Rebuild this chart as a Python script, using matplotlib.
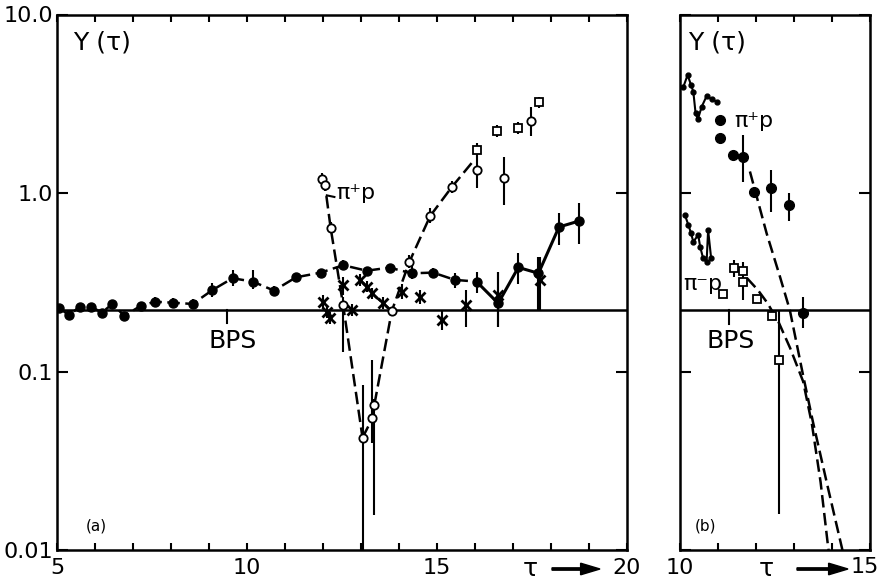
import matplotlib
matplotlib.use("Agg")
import matplotlib.pyplot as plt
from matplotlib.ticker import FixedLocator, NullFormatter, FixedFormatter

plt.rcParams['font.family'] = ['DejaVu Sans']

# ---------------- data: panel (a) ----------------
bps_level = 0.22

filled_tau = [5.06, 5.32, 5.6, 5.89, 6.18, 6.46, 6.77, 7.2, 7.58, 8.04, 8.57, 9.09, 9.62,
              10.15, 10.71, 11.29, 11.94, 12.53, 13.15, 13.75, 14.33, 14.9, 15.47, 16.04,
              16.61, 17.14, 17.67, 18.21, 18.74]
filled_y = [0.226, 0.207, 0.231, 0.231, 0.214, 0.239, 0.205, 0.233, 0.246, 0.243, 0.239,
            0.286, 0.333, 0.319, 0.284, 0.337, 0.358, 0.394, 0.367, 0.382, 0.355, 0.358,
            0.326, 0.319, 0.241, 0.383, 0.355, 0.645, 0.697]
filled_lo = [0.215, 0.196, 0.219, 0.219, 0.203, 0.226, 0.194, 0.221, 0.231, 0.228, 0.225,
             0.26, 0.30, 0.29, 0.27, 0.32, 0.34, 0.37, 0.35, 0.36, 0.33, 0.335, 0.293, 0.275,
             0.177, 0.31, 0.22, 0.51, 0.52]
filled_hi = [0.238, 0.218, 0.243, 0.243, 0.225, 0.252, 0.216, 0.245, 0.262, 0.258, 0.254,
             0.315, 0.37, 0.37, 0.30, 0.355, 0.376, 0.42, 0.385, 0.40, 0.39, 0.38, 0.355,
             0.36, 0.36, 0.46, 0.44, 0.77, 0.88]

open_tau = [11.97, 12.05, 12.2, 12.53, 13.04, 13.3, 13.35, 13.81, 14.27, 14.82, 15.39,
            16.04, 16.75, 17.47]
open_y = [1.2, 1.11, 0.64, 0.235, 0.0426, 0.0547, 0.0649, 0.218, 0.41, 0.743, 1.08, 1.35,
          1.21, 2.54]
open_lo = [1.1, 1.02, 0.6, 0.128, 0.005, 0.04, 0.0157, 0.205, 0.38, 0.68, 1.0, 1.07,
           0.857, 2.09]
open_hi = [1.3, 1.2, 0.69, 0.26, 0.084, 0.116, 0.07, 0.23, 0.45, 0.82, 1.17, 1.59, 1.59,
           3.03]

# dashed curve through open circles (descending arm, rising arm)
open_down_tau = [11.97, 12.05, 12.2, 12.53, 13.04]
open_down_y = [1.2, 1.11, 0.64, 0.235, 0.0426]
open_up_tau = [13.04, 13.3, 13.35, 13.81, 14.27, 14.82, 15.39, 15.91]
open_up_y = [0.0426, 0.0547, 0.0649, 0.218, 0.41, 0.743, 1.08, 1.47]

sq_tau = [16.04, 16.57, 17.14, 17.68]
sq_y = [1.74, 2.22, 2.32, 3.22]
sq_lo = [1.6, 2.05, 2.15, 3.0]
sq_hi = [1.9, 2.4, 2.5, 3.45]

cross_tau = [11.99, 12.1, 12.18, 12.52, 12.76, 12.97, 13.15, 13.28, 13.59, 14.07, 14.55,
             15.13, 15.76, 16.6, 17.7]
cross_y = [0.246, 0.216, 0.199, 0.305, 0.221, 0.326, 0.299, 0.274, 0.241, 0.28, 0.26,
           0.195, 0.236, 0.27, 0.325]
cross_lo = [0.225, 0.2, 0.185, 0.27, 0.205, 0.30, 0.28, 0.255, 0.225, 0.255, 0.24, 0.17,
            0.177, 0.177, 0.22]
cross_hi = [0.27, 0.235, 0.215, 0.34, 0.24, 0.35, 0.32, 0.295, 0.26, 0.31, 0.285, 0.22,
            0.286, 0.36, 0.44]
cross_line_tau = [12.97, 13.15, 13.28, 13.59, 13.81]
cross_line_y = [0.326, 0.299, 0.274, 0.241, 0.218]

# ---------------- data: panel (b) ----------------
bp_dots_tau = [10.09, 10.2, 10.29, 10.35, 10.41, 10.47, 10.57, 10.7, 10.83, 10.97]
bp_dots_y = [3.94, 4.58, 4.03, 3.7, 2.8, 2.59, 3.04, 3.49, 3.35, 3.25]
bp_big_tau = [11.05, 11.05, 11.4, 11.67, 11.95, 12.4, 12.88, 13.24]
bp_big_y = [2.56, 2.03, 1.63, 1.6, 1.01, 1.07, 0.857, 0.212]
bp_big_lo = [2.45, 1.95, 1.56, 1.15, 0.97, 0.78, 0.70, 0.175]
bp_big_hi = [2.68, 2.12, 1.70, 2.11, 1.05, 1.35, 1.00, 0.26]

bm_dots_tau = [10.13, 10.22, 10.29, 10.35, 10.48, 10.53, 10.61, 10.7, 10.74, 10.82]
bm_dots_y = [0.753, 0.662, 0.597, 0.533, 0.582, 0.50, 0.43, 0.41, 0.62, 0.43]
sqb_tau = [11.12, 11.43, 11.67, 11.67, 12.02, 12.42, 12.6]
sqb_y = [0.272, 0.378, 0.366, 0.318, 0.255, 0.205, 0.116]
sqb_lo = [0.26, 0.34, 0.33, 0.25, 0.245, 0.195, 0.016]
sqb_hi = [0.285, 0.42, 0.41, 0.33, 0.265, 0.215, 0.22]

curve_bp_tau = [11.84, 12.28, 12.63, 12.89, 13.24, 13.5, 13.9, 14.26, 14.4]
curve_bp_y = [1.32, 0.594, 0.34, 0.221, 0.095, 0.052, 0.022, 0.0103, 0.0075]
curve_bm_tau = [11.76, 12.05, 12.3, 12.59, 12.9, 13.24, 13.47, 13.7, 13.9, 14.0]
curve_bm_y = [0.334, 0.286, 0.242, 0.19, 0.135, 0.088, 0.051, 0.024, 0.0103, 0.0075]

# ---------------- figure ----------------
W, H = 881, 580
fig = plt.figure(figsize=(W / 100, H / 100), dpi=100)
ax1 = fig.add_axes([57 / W, 30 / H, 570 / W, 535.5 / H])
ax2 = fig.add_axes([680 / W, 30 / H, 190 / W, 535.5 / H])

DASH = (5, 2.2)
LW = 1.8


def yerr(y, lo, hi):
    return [[a - b for a, b in zip(y, lo)], [b - a for a, b in zip(y, hi)]]


def style_axes(ax, xmin, xmax, labels):
    ax.set_yscale('log')
    ax.set_xlim(xmin, xmax)
    ax.set_ylim(0.01, 10.0)
    for s in ax.spines.values():
        s.set_linewidth(1.8)
    ax.xaxis.set_major_locator(FixedLocator(list(labels.keys())))
    ax.xaxis.set_major_formatter(FixedFormatter(list(labels.values())))
    ax.xaxis.set_minor_locator(FixedLocator(list(range(xmin, xmax + 1))))
    ax.tick_params(axis='x', which='both', direction='in', top=True, bottom=True,
                   length=5, width=1.5, labelsize=16, pad=6)
    ax.yaxis.set_major_locator(FixedLocator([0.01, 0.1, 1.0, 10.0]))
    ax.yaxis.set_minor_locator(FixedLocator([]))
    ax.tick_params(axis='y', which='both', direction='in', left=True, right=True,
                   length=8, width=1.5, labelsize=16, pad=3)
    ax.axhline(bps_level, color='k', lw=1.8, zorder=1)


style_axes(ax1, 5, 20, {5: '5', 10: '10', 15: '15', 20: '20'})
ax1.yaxis.set_major_formatter(FixedFormatter(['0.01', '0.1', '1.0', '10.0']))
style_axes(ax2, 10, 15, {10: '10', 15: ''})
ax2.yaxis.set_major_formatter(NullFormatter())
# the "15" of panel (b) sits a little inside the figure edge
fig.text(865 / W, 1 - 567 / H, '15', fontsize=16, ha='center', va='center')

# ---- panel (a) ----
n_dash = 24  # index of last point joined by dashed line
ax1.plot(filled_tau[:n_dash], filled_y[:n_dash], color='k', lw=LW, dashes=DASH, zorder=2)
ax1.plot(filled_tau[n_dash - 1:], filled_y[n_dash - 1:], color='k', lw=2.2, zorder=2)
ax1.errorbar(filled_tau, filled_y, yerr=yerr(filled_y, filled_lo, filled_hi), fmt='o',
             color='k', ms=6.5, elinewidth=1.5, capsize=0, zorder=4)

ax1.plot(open_down_tau, open_down_y, color='k', lw=LW, dashes=DASH, zorder=2)
ax1.plot(open_up_tau, open_up_y, color='k', lw=LW, dashes=DASH, zorder=2)
ax1.errorbar(open_tau, open_y, yerr=yerr(open_y, open_lo, open_hi), fmt='o', color='k',
             mfc='white', mec='k', mew=1.3, ms=6, elinewidth=1.5, capsize=0, zorder=5)

ax1.errorbar(sq_tau, sq_y, yerr=yerr(sq_y, sq_lo, sq_hi), fmt='s', color='k',
             mfc='white', mec='k', mew=1.3, ms=5.5, elinewidth=1.5, capsize=0, zorder=5)

ax1.plot(cross_line_tau, cross_line_y, color='k', lw=LW, dashes=DASH, zorder=2)
ax1.errorbar(cross_tau, cross_y, yerr=yerr(cross_y, cross_lo, cross_hi), fmt='x',
             color='k', ms=6.5, mew=2.0, elinewidth=1.5, capsize=0, zorder=4)

# pi+ p label with short connector
ax1.plot([12.1, 12.3], [0.97, 0.95], color='k', lw=1.5)
ax1.text(12.87, 1.0, 'π⁺p', fontsize=16, ha='center', va='center')

ax1.plot([9.47, 9.47], [bps_level, 0.187], color='k', lw=1.5)
ax1.text(9.63, 0.148, 'BPS', fontsize=18, ha='center', va='center')
ax1.text(0.079, 0.947, 'Y (τ)', transform=ax1.transAxes, fontsize=18,
         ha='center', va='center')
ax1.text(0.05, 0.045, '(a)', transform=ax1.transAxes, fontsize=11, ha='left',
         va='center')

# ---- panel (b) ----
ax2.plot(bp_dots_tau, bp_dots_y, color='k', lw=1.5, marker='o', ms=3.5, zorder=3)
ax2.errorbar(bp_big_tau, bp_big_y, yerr=yerr(bp_big_y, bp_big_lo, bp_big_hi), fmt='o',
             color='k', ms=7, elinewidth=1.5, capsize=0, zorder=4)
ax2.plot(bm_dots_tau, bm_dots_y, color='k', lw=1.5, marker='o', ms=3.5, zorder=3)
ax2.errorbar(sqb_tau, sqb_y, yerr=yerr(sqb_y, sqb_lo, sqb_hi), fmt='s', color='k',
             mfc='white', mec='k', mew=1.3, ms=5.5, elinewidth=1.5, capsize=0, zorder=5)
ax2.plot(curve_bp_tau, curve_bp_y, color='k', lw=LW, dashes=DASH, zorder=2)
ax2.plot(curve_bm_tau, curve_bm_y, color='k', lw=LW, dashes=DASH, zorder=2)

ax2.text(11.95, 2.53, 'π⁺p', fontsize=16, ha='center', va='center')
ax2.text(10.6, 0.31, 'π⁻p', fontsize=16, ha='center', va='center')
ax2.plot([11.28, 11.28], [bps_level, 0.185], color='k', lw=1.5)
ax2.text(11.34, 0.148, 'BPS', fontsize=18, ha='center', va='center')
ax2.text(0.195, 0.947, 'Y (τ)', transform=ax2.transAxes, fontsize=18,
         ha='center', va='center')
ax2.text(0.08, 0.045, '(b)', transform=ax2.transAxes, fontsize=11, ha='left',
         va='center')

# axis labels "tau -->"
for tx, x0, x1 in [(530, 552, 600), (766, 797, 848)]:
    fig.text(tx / W, 1 - 569 / H, 'τ', fontsize=18, ha='center', va='center')
    fig.patches.append(matplotlib.patches.FancyArrow(
        x0 / W, 1 - 569 / H, (x1 - x0) / W, 0, width=0.004, head_width=0.02,
        head_length=0.022, length_includes_head=True, color='k',
        transform=fig.transFigure, figure=fig))

fig.savefig('out.png', dpi=100, facecolor='white')
